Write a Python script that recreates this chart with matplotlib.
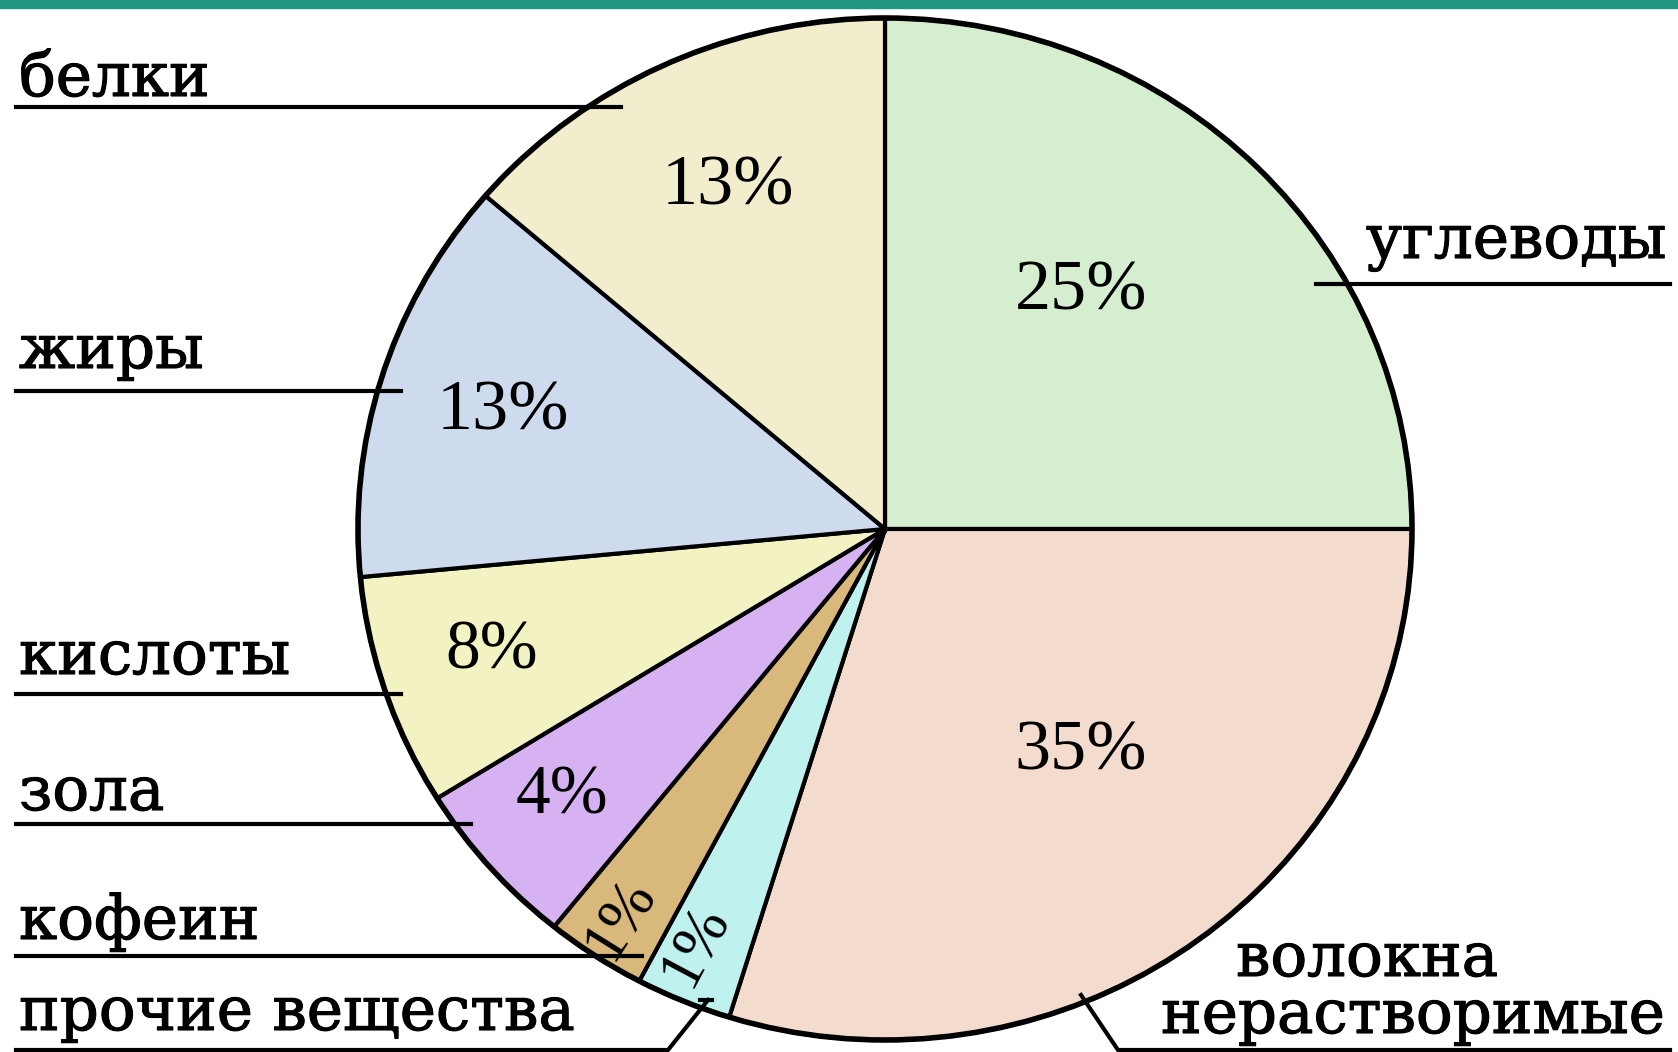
import matplotlib
matplotlib.use("Agg")
import matplotlib.pyplot as plt
import matplotlib.patheffects as pe
from matplotlib.patches import Ellipse

names = ["углеводы", "волокна\nнерастворимые", "прочие вещества", "кофеин",
         "зола", "кислоты", "жиры", "белки"]
shares = [90.0, 107.2, 10.6, 11.1, 19.3, 26.4, 46.1, 49.3]
pct_labels = ["25%", "35%", "1%", "1%", "4%", "8%", "13%", "13%"]
colors = ["#d5eecf", "#f3dccd", "#bff2ee", "#d9b87c",
          "#d7b2f2", "#f3f2c2", "#cedbee", "#f1edcd"]

W, H = 1678, 1052
CX, CY, RX, RY = 885, 529, 527, 511


def px(x, y):
    # pixel position -> data position of the (stretched) pie axes
    return (x - CX) / RX, (CY - y) / RY


fig = plt.figure(figsize=(W / 100, H / 100), dpi=100)
fig.patch.set_facecolor("white")
ax = fig.add_axes([0, 0, 1, 1])

ax.pie(shares, colors=colors, startangle=90, counterclock=False, radius=1,
       frame=True, wedgeprops=dict(edgecolor="black", linewidth=3.0))
ax.add_patch(Ellipse((0, 0), 2, 2, fill=False, edgecolor="black", lw=4.0, zorder=5))

ax.set_xlim(-CX / RX, (W - CX) / RX)
ax.set_ylim((CY - H) / RY, CY / RY)
ax.set_aspect("auto")
ax.axis("off")

serif = "Liberation Serif"
label_font = "DejaVu Serif"
heavy = [pe.withStroke(linewidth=0.8, foreground="black")]

# percentages inside the wedges
pct_pos = [(1081, 292), (1081, 752), (695, 945), (620, 918),
           (562, 797), (492, 652), (503, 412), (728, 187)]
pct_rot = [0, 0, 62, 58, 0, 0, 0, 0]
pct_size = [52, 52, 45, 45, 50, 50, 52, 52]
for t, p, r, s in zip(pct_labels, pct_pos, pct_rot, pct_size):
    ax.text(*px(*p), t, ha="center", va="center", fontsize=s, family=serif,
            rotation=r, zorder=6)

# category labels with underlines
lw = 3.0
fs = 44
left_items = [
    ("белки", 96, 107, 621),
    ("жиры", 368, 391, 401),
    ("кислоты", 674, 694, 401),
    ("зола", 810, 824, 471),
    ("кофеин", 939, 956, 642),
]
for name, base, ly, x2 in left_items:
    ax.text(*px(19, base), name, ha="left", va="baseline",
            fontsize=fs, family=label_font, path_effects=heavy)
    ax.plot(*zip(px(16, ly), px(x2, ly)), color="black", lw=lw, zorder=6)

# прочие вещества
ax.text(*px(19, 1030), names[2], ha="left", va="baseline", fontsize=fs,
        family=label_font, path_effects=heavy)
ax.plot(*zip(px(16, 1050), px(668, 1050), px(708, 1000)), color="black", lw=lw, zorder=6)
ax.plot(*zip(px(700, 1000), px(712, 1000)), color="black", lw=lw, zorder=6)

# углеводы
ax.text(*px(1366, 258), names[0], ha="left", va="baseline", fontsize=fs,
        family=label_font, path_effects=heavy)
ax.plot(*zip(px(1316, 284), px(1670, 284)), color="black", lw=lw, zorder=6)

# волокна нерастворимые
first, second = names[1].split("\n")
ax.text(*px(1236, 976), first, ha="left", va="baseline", fontsize=fs,
        family=label_font, path_effects=heavy)
ax.text(*px(1161, 1033), second, ha="left", va="baseline", fontsize=fs,
        family=label_font, path_effects=heavy)
ax.plot(*zip(px(1081, 995), px(1118, 1050), px(1670, 1050)), color="black", lw=lw, zorder=6)

# teal strip at the top
fig.patches.append(plt.Rectangle((0, 1 - 8 / H), 1, 8 / H, transform=fig.transFigure,
                                 color="#23977f", zorder=10))

fig.savefig("out.png", dpi=100)
